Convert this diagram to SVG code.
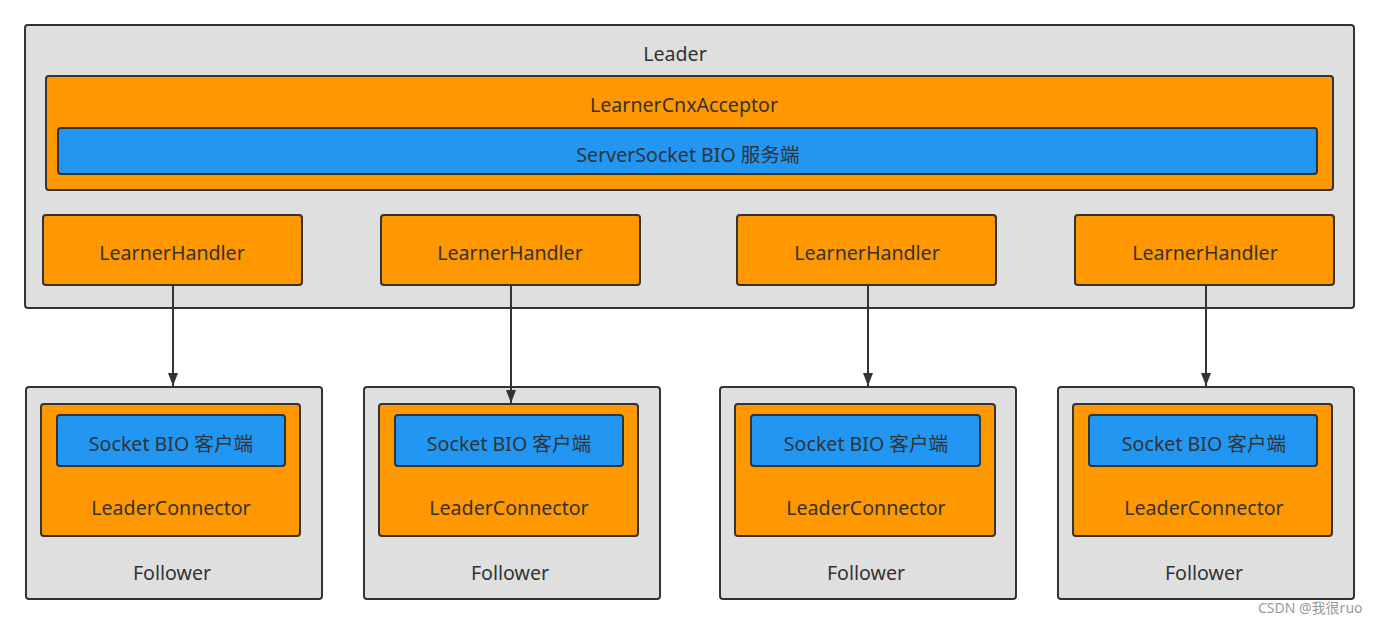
<svg xmlns="http://www.w3.org/2000/svg" width="1379" height="624" viewBox="0 0 1379 624">
<style>
.g{fill:#dfdfdf;stroke:#333;stroke-width:2}
.o{fill:#ff9800;stroke:#333;stroke-width:2}
.b{fill:#2196f3;stroke:#333;stroke-width:2}
text{font-family:"Noto Sans","Noto Sans CJK SC",sans-serif;font-size:19.6px;fill:#333;text-anchor:middle;dominant-baseline:central}
.c{stroke:#333;stroke-width:2;fill:none;marker-end:url(#ah)}
.wm{font-size:14px;fill:#999;text-anchor:start}
</style>
<defs>
<marker id="ah" markerWidth="14" markerHeight="12" refX="13" refY="6" orient="auto" markerUnits="userSpaceOnUse" viewBox="0 0 14 12">
<path d="M0,1 L13,6 L0,11 Z" fill="#333"/>
</marker>
</defs>
<rect width="1379" height="624" fill="#fff"/>
<g id="leader">
<rect class="g" x="25" y="25" width="1329" height="283" rx="3"/>
<text x="675" y="53">Leader</text>
</g>
<g id="acceptor">
<rect class="o" x="46" y="76" width="1287" height="114" rx="3"/>
<text x="684" y="104">LearnerCnxAcceptor</text>
</g>
<g id="serversocket">
<rect class="b" x="58" y="128" width="1259" height="46" rx="3"/>
<text x="688" y="154">ServerSocket BIO 服务端</text>
</g>
<g id="handler1"><rect class="o" x="43" y="215" width="259" height="70" rx="3"/><text x="172" y="252">LearnerHandler</text></g>
<g id="handler2"><rect class="o" x="381" y="215" width="259" height="70" rx="3"/><text x="510" y="252">LearnerHandler</text></g>
<g id="handler3"><rect class="o" x="737" y="215" width="259" height="70" rx="3"/><text x="867" y="252">LearnerHandler</text></g>
<g id="handler4"><rect class="o" x="1075" y="215" width="259" height="70" rx="3"/><text x="1205" y="252">LearnerHandler</text></g>

<g id="follower1">
<rect class="g" x="26" y="387" width="296" height="212" rx="3"/>
<rect class="o" x="41" y="404" width="259" height="132" rx="3"/>
<rect class="b" x="57" y="415" width="228" height="51" rx="3"/>
<text x="171" y="443">Socket BIO 客户端</text>
<text x="171" y="507">LeaderConnector</text>
<text x="172" y="572">Follower</text>
</g>
<g id="follower2">
<rect class="g" x="364" y="387" width="296" height="212" rx="3"/>
<rect class="o" x="379" y="404" width="259" height="132" rx="3"/>
<rect class="b" x="395" y="415" width="228" height="51" rx="3"/>
<text x="509" y="443">Socket BIO 客户端</text>
<text x="509" y="507">LeaderConnector</text>
<text x="510" y="572">Follower</text>
</g>
<g id="follower3">
<rect class="g" x="720" y="387" width="296" height="212" rx="3"/>
<rect class="o" x="735" y="404" width="260" height="132" rx="3"/>
<rect class="b" x="751" y="415" width="229" height="51" rx="3"/>
<text x="866" y="443">Socket BIO 客户端</text>
<text x="866" y="507">LeaderConnector</text>
<text x="866" y="572">Follower</text>
</g>
<g id="follower4">
<rect class="g" x="1058" y="387" width="296" height="212" rx="3"/>
<rect class="o" x="1073" y="404" width="259" height="132" rx="3"/>
<rect class="b" x="1089" y="415" width="228" height="51" rx="3"/>
<text x="1204" y="443">Socket BIO 客户端</text>
<text x="1204" y="507">LeaderConnector</text>
<text x="1204" y="572">Follower</text>
</g>

<g id="connectors">
<path class="c" d="M173,286 L173,386"/>
<path class="c" d="M511,286 L511,403"/>
<path class="c" d="M868,286 L868,386"/>
<path class="c" d="M1206,286 L1206,386"/>
</g>
<text class="wm" x="1258" y="607">CSDN @我很ruo</text>
</svg>
